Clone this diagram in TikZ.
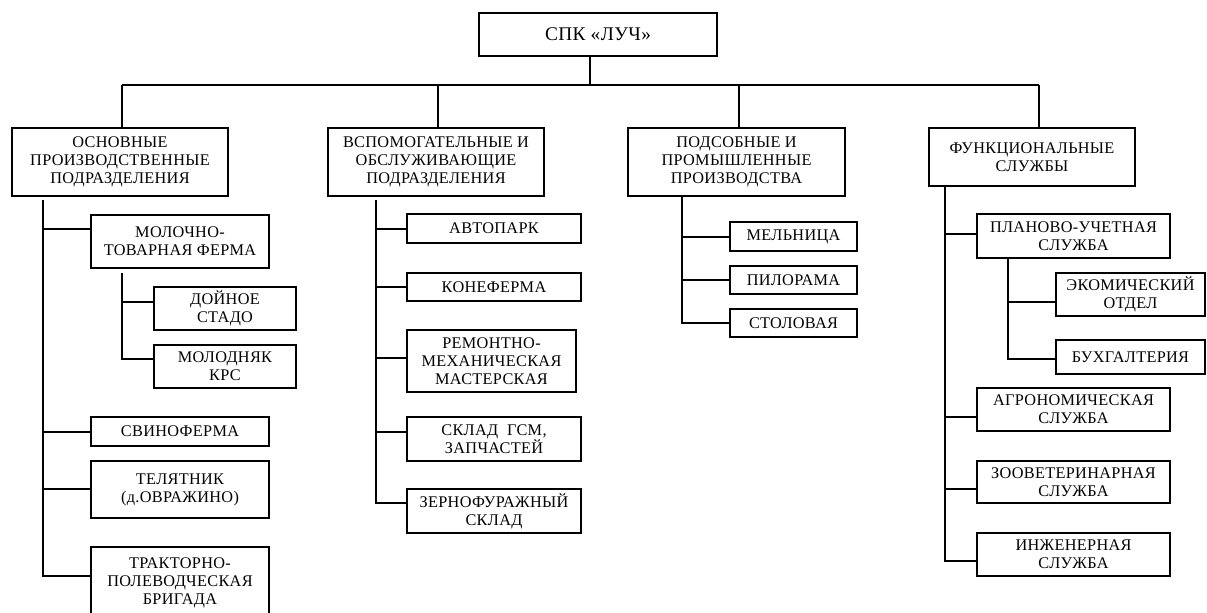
\documentclass[tikz,border=0pt]{standalone}
\usepackage{fontspec}
\setmainfont{Liberation Serif}[LetterSpace=2.0]
\begin{document}
\begin{tikzpicture}[x=0.75pt,y=-0.75pt,
  box/.style={draw=black, line width=0.8pt, inner sep=0pt, align=center,
    font=\fontsize{12.2}{13.6}\selectfont},
  ln/.style={draw=black, line width=0.8pt}]
\newcommand\bx[6]{\node[box, minimum width={(#4-#2)*0.75pt}, minimum height={(#5-#3)*0.75pt}] (#1) at ({(#2+#4)/2},{(#3+#5)/2}) {#6};}
\useasboundingbox (0,0) rectangle (1207,612);
\clip (0,0) rectangle (1207,612);
\fill[white] (0,0) rectangle (1207,612);
% top level
\bx{top}{479}{13}{717}{56}{\fontsize{14.5}{16}\selectfont СПК «ЛУЧ»}
\bx{b1}{12}{128}{228}{196}{ОСНОВНЫЕ\\ПРОИЗВОДСТВЕННЫЕ\\ПОДРАЗДЕЛЕНИЯ}
\bx{b2}{328}{128}{544}{196}{ВСПОМОГАТЕЛЬНЫЕ И\\ОБСЛУЖИВАЮЩИЕ\\ПОДРАЗДЕЛЕНИЯ}
\bx{b3}{628}{128}{845}{196}{ПОДСОБНЫЕ И\\ПРОМЫШЛЕННЫЕ\\ПРОИЗВОДСТВА}
\bx{b4}{929}{128}{1135}{186}{ФУНКЦИОНАЛЬНЫЕ\\СЛУЖБЫ}
\coordinate (busL) at (122,85);
\coordinate (busR) at (1039,85);
\coordinate (busT) at (590,85);
\coordinate (v1) at (122,85);
\coordinate (v2) at (438,85);
\coordinate (v3) at (739,85);
\coordinate (v4) at (1039,85);
\draw[ln] (busL) -- (busR);
\draw[ln] (top.south -| busT) -- (busT);
\draw[ln] (v1) -- (v1 |- b1.north);
\draw[ln] (v2) -- (v2 |- b2.north);
\draw[ln] (v3) -- (v3 |- b3.north);
\draw[ln] (v4) -- (v4 |- b4.north);
% column 1
\bx{c1a}{91}{215}{269}{268}{МОЛОЧНО-\\ТОВАРНАЯ ФЕРМА}
\bx{c1a1}{154}{287}{296}{330}{ДОЙНОЕ\\СТАДО}
\bx{c1a2}{154}{345}{296}{388}{МОЛОДНЯК\\КРС}
\bx{c1b}{91}{417}{269}{446}{СВИНОФЕРМА}
\bx{c1c}{91}{461}{269}{518}{ТЕЛЯТНИК\\(д.ОВРАЖИНО)}
\bx{c1d}{91}{547}{269}{618}{ТРАКТОРНО-\\ПОЛЕВОДЧЕСКАЯ\\БРИГАДА}
\coordinate (t1s) at (43,200);
\coordinate (t1a) at (43,229);
\coordinate (t1b) at (43,432);
\coordinate (t1c) at (43,489);
\coordinate (t1d) at (43,576);
\draw[ln] (t1s) -- (t1d) -- (t1d -| c1d.west);
\draw[ln] (t1a) -- (t1a -| c1a.west);
\draw[ln] (t1b) -- (t1b -| c1b.west);
\draw[ln] (t1c) -- (t1c -| c1c.west);
\coordinate (s1s) at (122,273);
\coordinate (s1a) at (122,302);
\coordinate (s1b) at (122,359);
\draw[ln] (s1s) -- (s1b) -- (s1b -| c1a2.west);
\draw[ln] (s1a) -- (s1a -| c1a1.west);
% column 2
\bx{c2a}{407}{214}{581}{243}{АВТОПАРК}
\bx{c2b}{407}{273}{581}{301}{КОНЕФЕРМА}
\bx{c2c}{407}{330}{576}{392}{РЕМОНТНО-\\МЕХАНИЧЕСКАЯ\\МАСТЕРСКАЯ}
\bx{c2d}{407}{417}{581}{461}{СКЛАД\ \ ГСМ,\\ЗАПЧАСТЕЙ}
\bx{c2e}{407}{489}{581}{533}{ЗЕРНОФУРАЖНЫЙ\\СКЛАД}
\coordinate (t2s) at (376,200);
\coordinate (t2a) at (376,229);
\coordinate (t2b) at (376,287);
\coordinate (t2c) at (376,358);
\coordinate (t2d) at (376,432);
\coordinate (t2e) at (376,503);
\draw[ln] (t2s) -- (t2e) -- (t2e -| c2e.west);
\draw[ln] (t2a) -- (t2a -| c2a.west);
\draw[ln] (t2b) -- (t2b -| c2b.west);
\draw[ln] (t2c) -- (t2c -| c2c.west);
\draw[ln] (t2d) -- (t2d -| c2d.west);
% column 3
\bx{c3a}{730}{222}{857}{251}{МЕЛЬНИЦА}
\bx{c3b}{730}{266}{857}{294}{ПИЛОРАМА}
\bx{c3c}{730}{309}{857}{337}{СТОЛОВАЯ}
\coordinate (t3s) at (682,196);
\coordinate (t3a) at (682,237);
\coordinate (t3b) at (682,280);
\coordinate (t3c) at (682,323);
\draw[ln] (t3s) -- (t3c) -- (t3c -| c3c.west);
\draw[ln] (t3a) -- (t3a -| c3a.west);
\draw[ln] (t3b) -- (t3b -| c3b.west);
% column 4
\bx{c4a}{977}{214}{1170}{258}{ПЛАНОВО-УЧЕТНАЯ\\СЛУЖБА}
\bx{c4a1}{1056}{273}{1205}{316}{ЭКОМИЧЕСКИЙ\\ОТДЕЛ}
\bx{c4a2}{1056}{340}{1205}{374}{БУХГАЛТЕРИЯ}
\bx{c4b}{977}{388}{1170}{431}{АГРОНОМИЧЕСКАЯ\\СЛУЖБА}
\bx{c4c}{977}{461}{1170}{503}{ЗООВЕТЕРИНАРНАЯ\\СЛУЖБА}
\bx{c4d}{977}{533}{1170}{576}{ИНЖЕНЕРНАЯ\\СЛУЖБА}
\coordinate (t4s) at (945,186);
\coordinate (t4a) at (945,234);
\coordinate (t4b) at (945,417);
\coordinate (t4c) at (945,489);
\coordinate (t4d) at (945,561);
\draw[ln] (t4s) -- (t4d) -- (t4d -| c4d.west);
\draw[ln] (t4a) -- (t4a -| c4a.west);
\draw[ln] (t4b) -- (t4b -| c4b.west);
\draw[ln] (t4c) -- (t4c -| c4c.west);
\coordinate (s4s) at (1008,258);
\coordinate (s4a) at (1008,302);
\coordinate (s4b) at (1008,359);
\draw[ln] (s4s) -- (s4b) -- (s4b -| c4a2.west);
\draw[ln] (s4a) -- (s4a -| c4a1.west);
\end{tikzpicture}
\end{document}
